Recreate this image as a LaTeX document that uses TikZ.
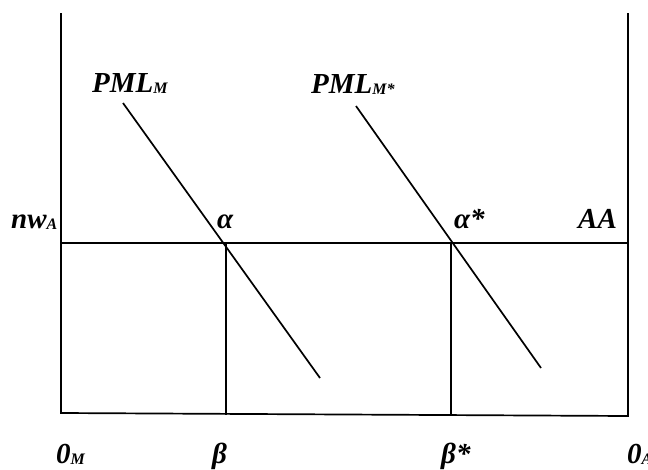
\documentclass[tikz,border=0pt]{standalone}
\usepackage{fontspec}
\setmainfont{Liberation Serif}
\newcommand\sbs[1]{{\fontsize{16}{16}\selectfont\raisebox{-1.5pt}{#1}}}
\begin{document}
\begin{tikzpicture}[x=1pt,y=-1pt,
  ln/.style={line width=1.7pt},
  lbl/.style={anchor=base west, inner sep=0pt, font=\fontsize{29}{32}\selectfont\bfseries\itshape}]
\useasboundingbox (0,0) rectangle (648,469);
\coordinate (LT) at (61,13); \coordinate (LB) at (61,413);
\coordinate (RT) at (628,13); \coordinate (RB) at (628,416);
\coordinate (HL) at (61,243); \coordinate (HR) at (628,243);
\coordinate (A1) at (226,243); \coordinate (B1) at (226,415);
\coordinate (A2) at (451,243); \coordinate (B2) at (451,416);
\coordinate (P1s) at (123,103); \coordinate (P1e) at (320,378);
\coordinate (P2s) at (356,106); \coordinate (P2e) at (541,368);
\draw[ln] (LT) -- (LB) -- (RB) -- (RT);
\draw[ln] (HL) -- (HR);
\draw[ln] (A1) -- (B1);
\draw[ln] (A2) -- (B2);
\draw[ln] (P1s) -- (P1e);
\draw[ln] (P2s) -- (P2e);
\node[lbl] (pml) at (92,92) {PML\sbs{M}};
\node[lbl] (pmls) at (311,93) {PML\sbs{M*}};
\node[lbl] (nw) at (11,228) {nw\sbs{A}};
\node[lbl] (al) at (217,228) {α};
\node[lbl] (als) at (454,228) {α*};
\node[lbl] (aa) at (578,228) {AA};
\node[lbl] (om) at (56,463) {0\sbs{M}};
\node[lbl] (be) at (212,463) {β};
\node[lbl] (bes) at (441,463) {β*};
\node[lbl] (oa) at (627,463) {0\sbs{A}};
\end{tikzpicture}
\end{document}
